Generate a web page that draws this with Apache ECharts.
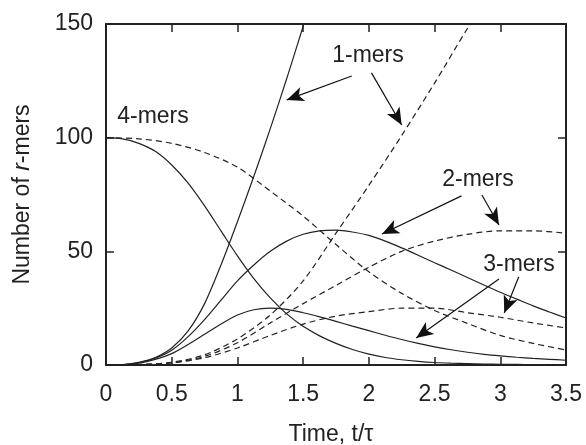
<!DOCTYPE html>
<html>
<head>
<meta charset="utf-8">
<script src="https://cdn.jsdelivr.net/npm/echarts@6/dist/echarts.min.js"></script>
<style>
  html, body { margin: 0; padding: 0; background: #fff; }
  #main { width: 586px; height: 445px; }
</style>
</head>
<body>
<div id="main"></div>
<script>
// time points (t/tau) for the solid curves
const tS = [0, 0.125, 0.25, 0.375, 0.5, 0.625, 0.75, 0.875, 1, 1.125, 1.25, 1.375, 1.5, 1.625,
            1.75, 1.875, 2, 2.125, 2.25, 2.375, 2.5, 2.625, 2.75, 2.875, 3, 3.125, 3.25, 3.375, 3.5];
// time points for the dashed curves
const tD = [0, 0.25, 0.5, 0.75, 1, 1.25, 1.5, 1.75, 2, 2.25, 2.5, 2.75, 3, 3.25, 3.5];

// solid curves
const s1 = [0, 0.2, 1.2, 3.3, 7.5, 15, 27, 44, 63, 83, 104, 126, 149, 173];
const s2 = [0, 0.1, 1, 3, 6.5, 12.5, 20, 28.5, 37, 44, 50, 54.5, 57.5, 59, 59.3, 58.5,
            57, 54.5, 51.5, 48.3, 45, 41.8, 38.5, 35.2, 32, 29, 26, 23.3, 20.7];
const s3 = [0, 0.1, 0.8, 2.5, 5, 9, 13.5, 18, 22, 24.3, 25, 24.5, 23, 21.2, 19.2, 17.1,
            15.1, 13.1, 11.2, 9.5, 8, 6.7, 5.6, 4.7, 4, 3.4, 2.9, 2.5, 2.1];
const s4 = [100, 99.5, 97.5, 94, 88, 80, 70, 59, 48, 38, 29.5, 22.5, 17, 12.8, 9.5, 6.8,
            4.8, 3.3, 2.3, 1.6, 1.1, 0.8, 0.6, 0.45, 0.3, 0.25, 0.2, 0.15, 0.1];

// dashed curves
const d1 = [0, 0.2, 1.2, 4.5, 11.5, 22, 37, 58, 79, 101, 124, 148, 170];
const d2 = [0, 0.2, 1, 3.8, 9.8, 18.5, 27, 35, 43, 50, 54.5, 57.5, 59, 59, 58];
const d3 = [0, 0.2, 0.9, 3.2, 7.5, 13, 18, 21.5, 23.5, 25, 25, 23, 21, 18.5, 16.3];
const d4 = [100, 99.5, 97.5, 93.5, 87, 76.5, 65.5, 53, 41, 31.5, 24, 18.3, 13, 9.5, 6.6];

// arrows: [fromT, fromN, toT, toN]
const arrows = [
  [1.87, 127.1, 1.375, 116.6],
  [2.02, 128.5, 2.25, 105.6],
  [2.705, 74.4, 2.10, 57.6],
  [2.86, 74.8, 2.99, 61.6],
  [2.99, 37.8, 2.36, 11.9],
  [3.14, 38.7, 3.03, 22.9]
];

// labels: [text, x px, y px]
const labels = [
  ['4-mers', 153, 117],
  ['1-mers', 368, 56],
  ['2-mers', 478, 180],
  ['3-mers', 519, 265]
];

const font = 'Liberation Sans, Arial, Helvetica, sans-serif';
const ink = '#222';
const fs = 23;

function pts(ts, arr) {
  return arr.map(function (v, i) { return [ts[i], v]; });
}

function curve(ts, arr, dashed) {
  return {
    type: 'line',
    data: pts(ts, arr),
    symbol: 'none',
    smooth: 0.3,
    clip: true,
    lineStyle: { color: ink, width: 1.2, type: dashed ? [6, 4] : 'solid' }
  };
}

const baseAxis = {
  axisLine: { show: true, onZero: false, lineStyle: { color: ink, width: 2 } },
  axisTick: { show: true, inside: true, length: 8, lineStyle: { color: ink, width: 1.5 } },
  splitLine: { show: false }
};

var myChart = echarts.init(document.getElementById('main'));

var series = [
  curve(tS, s1, false), curve(tS, s2, false), curve(tS, s3, false), curve(tS, s4, false),
  curve(tD, d1, true), curve(tD, d2, true), curve(tD, d3, true), curve(tD, d4, true)
];
series[3].markLine = {
  silent: true,
  animation: false,
  symbol: ['none', 'arrow'],
  symbolSize: [11, 17],
  label: { show: false },
  lineStyle: { type: 'solid', color: '#111', width: 1.2 },
  data: arrows.map(function (a) {
    return [{ coord: [a[0], a[1]] }, { coord: [a[2], a[3]] }];
  })
};

var option = {
  animation: false,
  grid: { left: 106, right: 20, top: 24, bottom: 80, containLabel: false, outerBoundsMode: 'none' },
  xAxis: [
    Object.assign({}, baseAxis, {
      type: 'value', min: 0, max: 3.5, interval: 0.5, position: 'bottom',
      axisLabel: { fontSize: fs, color: ink, margin: 18, fontFamily: font },
      name: 'Time, t/\u03c4', nameLocation: 'middle', nameGap: 58,
      nameTextStyle: { fontSize: fs, color: ink, fontFamily: font, padding: [0, 10, 0, 0] }
    }),
    Object.assign({}, baseAxis, {
      type: 'value', min: 0, max: 3.5, interval: 0.5, position: 'top',
      axisLabel: { show: false }
    })
  ],
  yAxis: [
    Object.assign({}, baseAxis, {
      type: 'value', min: 0, max: 150, interval: 50, position: 'left',
      axisLabel: { fontSize: fs, color: ink, margin: 13, fontFamily: font },
      name: 'Number of {i|r}-mers', nameLocation: 'middle', nameGap: 72, nameRotate: 90,
      nameTextStyle: {
        fontSize: fs, color: ink, fontFamily: font,
        rich: { i: { fontStyle: 'italic', fontSize: fs, color: ink, fontFamily: font } }
      }
    }),
    Object.assign({}, baseAxis, {
      type: 'value', min: 0, max: 150, interval: 50, position: 'right',
      axisLabel: { show: false }
    })
  ],
  graphic: labels.map(function (l) {
    return {
      type: 'text', x: l[1], y: l[2], z: 10,
      style: { text: l[0], fontSize: fs, fontFamily: font, fill: ink,
               textAlign: 'center', textVerticalAlign: 'middle' }
    };
  }),
  series: series
};

myChart.setOption(option);
</script>
</body>
</html>
